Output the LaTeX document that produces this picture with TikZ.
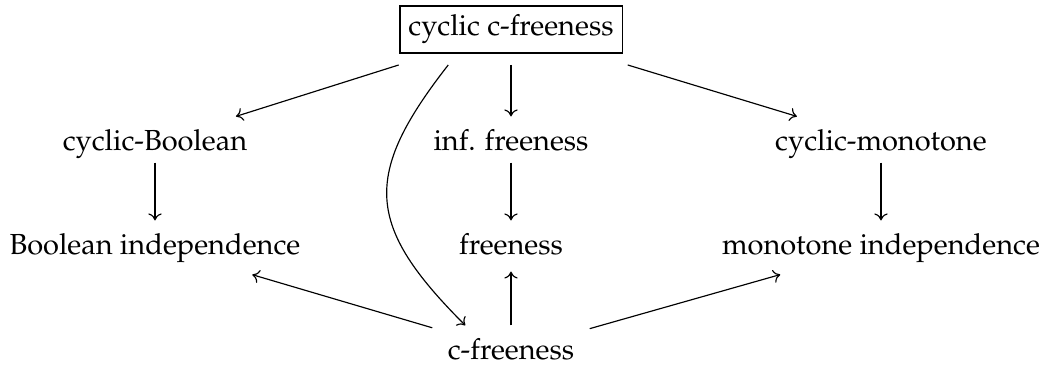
\documentclass[tikz,border=0pt]{standalone}
\usepackage[T1]{fontenc}
\usepackage{mathpazo}
\usetikzlibrary{calc,arrows.meta}
\newdimen\pxu \pxu=0.3448pt
\begin{document}
\begin{tikzpicture}[x=0.3448pt, y=0.3448pt,
  lbl/.style={inner xsep=15\pxu, inner ysep=0pt, text height=34\pxu, text depth=16\pxu, anchor=base},
  topbox/.style={draw, line width=0.4pt, inner xsep=8.5\pxu, inner ysep=9.6\pxu, text height=20.4\pxu, text depth=7.4\pxu, outer sep=12\pxu, anchor=base},
  arr/.style={-{Computer Modern Rightarrow[length=2.4pt, width=4.6pt]}, line width=0.4pt}]
\useasboundingbox (0,0) rectangle (1046,368);
\node[topbox] (top) at (511,332) {cyclic c-freeness};
\node[lbl] (cb) at (155,217) {cyclic-Boolean};
\node[lbl] (inf) at (511,217) {inf. freeness};
\node[lbl] (cm) at (881,217) {cyclic-monotone};
\node[lbl] (bi) at (155,113) {Boolean independence};
\node[lbl] (fr) at (511,113) {freeness};
\node[lbl] (mi) at (881,113) {monotone independence};
\node[lbl] (cf) at (511,8) {c-freeness};
\draw[arr] (top) -- (cb);
\draw[arr] (top) -- (inf);
\draw[arr] (top) -- (cm);
\draw[arr, shorten <=-5\pxu] (cb) -- (bi);
\draw[arr, shorten <=-5\pxu] (inf) -- (fr);
\draw[arr, shorten <=-5\pxu] (cm) -- (mi);
\draw[arr] (cf) -- (fr);
\draw[arr, shorten >=11\pxu] (cf) -- (bi);
\draw[arr, shorten >=11\pxu] (cf) -- (mi);
\draw[arr] ($(top.south)!0.51!(top.south west)$) to[out=-128, in=135, looseness=1.38] ($(cf.north)!0.58!(cf.north west)$);
\end{tikzpicture}
\end{document}
